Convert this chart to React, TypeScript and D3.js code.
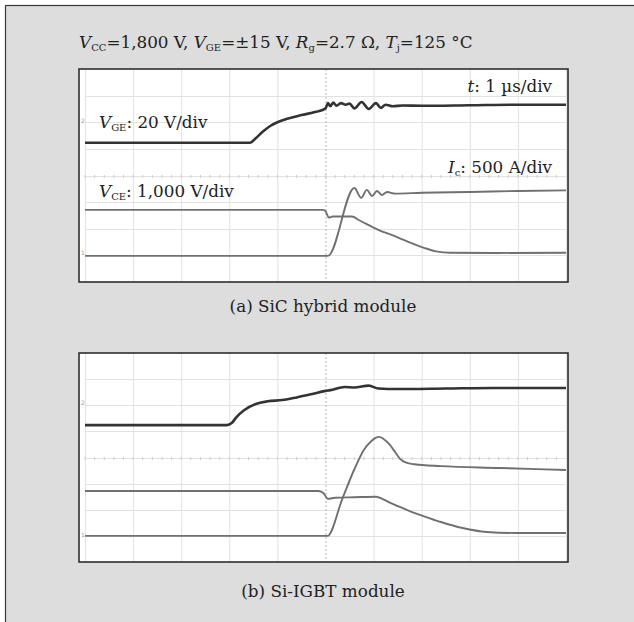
import React, { useEffect, useRef } from "react";
import * as d3 from "d3";

type Pt = [number, number];

// time in µs (1 µs/div), level in screen divisions counted from the bottom of the graticule
// (a) SiC hybrid module
const sicVge: Pt[] = [
  [0, 5.23], [3.43, 5.23], [3.55, 5.4], [3.7, 5.65], [3.85, 5.86], [4.0, 6.0], [4.2, 6.13],
  [4.5, 6.27], [4.8, 6.39], [5.0, 6.52], [5.05, 6.72], [5.1, 6.6], [5.16, 6.74], [5.23, 6.62],
  [5.32, 6.72], [5.42, 6.66], [5.5, 6.7], [5.6, 6.52], [5.75, 6.76], [5.9, 6.5], [6.05, 6.72],
  [6.15, 6.54], [6.25, 6.66], [6.4, 6.6], [6.6, 6.63], [7.0, 6.62], [8.0, 6.64], [9.0, 6.66], [10, 6.66],
];
const sicVce: Pt[] = [
  [0, 2.71], [4.95, 2.71], [5.0, 2.66], [5.07, 2.42], [5.15, 2.46], [5.55, 2.46], [5.7, 2.32],
  [5.85, 2.18], [6.1, 1.96], [6.5, 1.68], [6.8, 1.45], [7.05, 1.28], [7.3, 1.15], [7.6, 1.1],
  [8.5, 1.09], [10, 1.1],
];
const sicIc: Pt[] = [
  [0, 0.98], [5.05, 0.98], [5.6, 3.53], [5.74, 3.16], [5.86, 3.46], [5.97, 3.23], [6.07, 3.42],
  [6.17, 3.27], [6.28, 3.38], [6.45, 3.32], [7.0, 3.35], [8.0, 3.38], [9.0, 3.42], [10, 3.44],
];

// (b) Si-IGBT module
const igbtVge: Pt[] = [
  [0, 5.24], [2.95, 5.24], [3.05, 5.32], [3.15, 5.55], [3.3, 5.8], [3.55, 6.05], [3.8, 6.15],
  [4.1, 6.2], [4.4, 6.3], [4.7, 6.42], [5.0, 6.55], [5.1, 6.58], [5.4, 6.7], [5.6, 6.68],
  [5.9, 6.75], [6.1, 6.64], [6.5, 6.62], [7.5, 6.64], [8.5, 6.66], [10, 6.66],
];
const igbtVce: Pt[] = [
  [0, 2.72], [4.85, 2.72], [4.95, 2.65], [5.05, 2.42], [5.2, 2.46], [5.6, 2.48], [6.05, 2.5],
  [6.2, 2.4], [6.35, 2.26], [6.7, 1.99], [7.05, 1.75], [7.4, 1.53], [7.85, 1.3], [8.35, 1.15],
  [9.0, 1.11], [10, 1.11],
];
const igbtIc: Pt[] = [
  [0, 1.0], [5.04, 1.0], [5.35, 2.42], [5.6, 3.55], [5.8, 4.3], [5.95, 4.62], [6.05, 4.76],
  [6.12, 4.79], [6.2, 4.72], [6.34, 4.48], [6.45, 4.2], [6.55, 3.95], [6.68, 3.8], [6.85, 3.74],
  [7.4, 3.67], [8.6, 3.6], [10, 3.52],
];

const timeDivs = d3.range(0, 11);
const levelDivs = d3.range(1, 8);

type Part = [string, string];
const header: Part[] = [
  ["V", "i"], ["CC", "s"], ["=1,800 V, ", ""], ["V", "i"], ["GE", "s"], ["=±15 V, ", ""],
  ["R", "i"], ["g", "s"], ["=2.7 Ω, ", ""], ["T", "i"], ["j", "s"], ["=125 °C", ""],
];
const lblTime: Part[] = [["t", "i"], [": 1 µs/div", ""]];
const lblVge: Part[] = [["V", "i"], ["GE", "s"], [": 20 V/div", ""]];
const lblIc: Part[] = [["I", "i"], ["c", "s"], [": 500 A/div", ""]];
const lblVce: Part[] = [["V", "i"], ["CE", "s"], [": 1,000 V/div", ""]];
const captions = ["(a) SiC hybrid module", "(b) Si-IGBT module"];

const W = 634;
const H = 622;
const FONT = "'DejaVu Serif', serif";
const FS = 16.8;

const App = () => {
  const svgRef = useRef<SVGSVGElement>(null);

  useEffect(() => {
    const svg = d3.select(svgRef.current);
    svg.selectAll("*").remove();

    svg.append("rect").attr("x", 5.5).attr("y", 5.5).attr("width", 800).attr("height", 800)
      .attr("fill", "#dcdddc").attr("stroke", "#3a3a3a").attr("stroke-width", 1.2);

    const rich = (x: number, y: number, parts: Part[], anchor = "start") => {
      const t = svg.append("text").attr("x", x).attr("y", y).attr("text-anchor", anchor)
        .attr("font-family", FONT).attr("font-size", FS).attr("fill", "#222");
      let down = false;
      parts.forEach(([s, k]) => {
        const ts = t.append("tspan").text(s);
        if (k === "i") ts.attr("font-style", "italic");
        if (k === "s") {
          ts.attr("font-size", 10);
          if (!down) { ts.attr("dy", 2.5); down = true; }
        } else if (down) { ts.attr("dy", -2.5); down = false; }
      });
    };

    rich(79, 48, header);

    const x = d3.scaleLinear().domain([0, 10]).range([85, 566]);

    const panels = [
      { top: 69, bottom: 282, traces: [sicVge, sicVce, sicIc], cap: captions[0], capY: 312, marks: [121, 253] },
      { top: 353, bottom: 562, traces: [igbtVge, igbtVce, igbtIc], cap: captions[1], capY: 597, marks: [403, 535] },
    ];

    panels.forEach((p, i) => {
      const y = d3.scaleLinear().domain([0, 8]).range([p.bottom, p.top]);
      const g = svg.append("g");
      const clipId = `clip${i}`;
      g.append("clipPath").attr("id", clipId).append("rect")
        .attr("x", 79).attr("y", p.top).attr("width", 489).attr("height", p.bottom - p.top);

      g.append("rect").attr("x", 79).attr("y", p.top).attr("width", 489).attr("height", p.bottom - p.top)
        .attr("fill", "#fff");

      // graticule
      g.selectAll(".vx").data(timeDivs.filter((d) => d !== 5)).join("line")
        .attr("x1", (d) => x(d) + 0.5).attr("x2", (d) => x(d) + 0.5)
        .attr("y1", p.top).attr("y2", p.bottom)
        .attr("stroke", "#e2e2e2").attr("stroke-width", 1);
      g.selectAll(".hy").data(levelDivs).join("line")
        .attr("x1", x(0)).attr("x2", x(10))
        .attr("y1", (d) => Math.round(y(d)) + 0.5).attr("y2", (d) => Math.round(y(d)) + 0.5)
        .attr("stroke", "#e2e2e2").attr("stroke-width", 1);
      g.append("line").attr("x1", x(5) + 0.5).attr("x2", x(5) + 0.5).attr("y1", p.top).attr("y2", p.bottom)
        .attr("stroke", "#b4b4b4").attr("stroke-dasharray", "2,2");
      const minor = d3.range(0, 50).map((d) => d / 5);
      g.selectAll(".mt").data(minor).join("line")
        .attr("x1", (d) => x(d)).attr("x2", (d) => x(d))
        .attr("y1", Math.round(y(4)) - 1).attr("y2", Math.round(y(4)) + 2)
        .attr("stroke", "#cbcbcb").attr("stroke-width", 1);

      // ground markers
      p.marks.forEach((m, j) => {
        g.append("text").attr("x", 81).attr("y", m + 2).attr("font-size", 6)
          .attr("font-family", "'DejaVu Sans', sans-serif").attr("fill", "#999").text(j === 0 ? "2" : "1");
      });

      const line = d3.line<Pt>().x((d) => x(d[0])).y((d) => y(d[1])).curve(d3.curveMonotoneX);
      const colors = ["#333", "#707070", "#707070"];
      const widths = [2.6, 1.9, 1.9];
      p.traces.forEach((tr, k) => {
        g.append("path").datum(tr).attr("clip-path", `url(#${clipId})`)
          .attr("fill", "none").attr("stroke", colors[k]).attr("stroke-width", widths[k])
          .attr("stroke-linejoin", "round").attr("d", line);
      });

      g.append("rect").attr("x", 79).attr("y", p.top).attr("width", 489).attr("height", p.bottom - p.top)
        .attr("fill", "none").attr("stroke", "#2e2e2e").attr("stroke-width", 1.6);

      svg.append("text").attr("x", 323).attr("y", p.capY).attr("text-anchor", "middle")
        .attr("font-family", FONT).attr("font-size", FS).attr("fill", "#222").text(p.cap);
    });

    rich(552, 92, lblTime, "end");
    rich(99, 128, lblVge);
    rich(552, 173, lblIc, "end");
    rich(99, 197, lblVce);
  }, []);

  return (
    <svg ref={svgRef} width={W} height={H} style={{ position: "absolute", left: 0, top: 0 }}></svg>
  );
};

export default App;
